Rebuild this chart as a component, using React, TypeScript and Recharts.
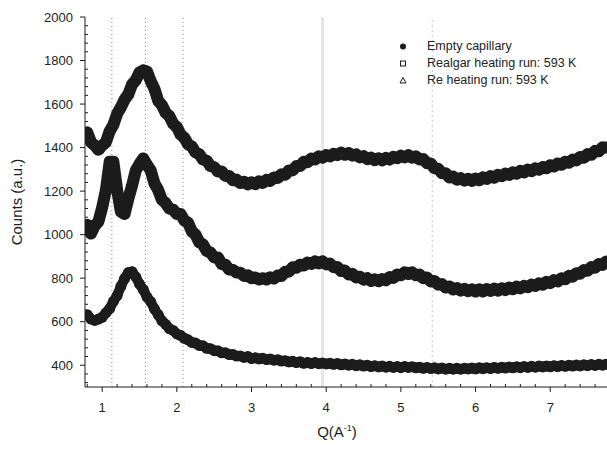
import React from "react";
import {
    ComposedChart,
    Line,
    Scatter,
    XAxis,
    YAxis,
    ReferenceLine,
} from "recharts";

// Q grid (1/A), 0.05 steps
const qValues = [
    0.8, 0.85, 0.9, 0.95, 1.0, 1.05, 1.1, 1.15, 1.2, 1.25,
    1.3, 1.35, 1.4, 1.45, 1.5, 1.55, 1.6, 1.65, 1.7, 1.75,
    1.8, 1.85, 1.9, 1.95, 2.0, 2.05, 2.1, 2.15, 2.2, 2.25,
    2.3, 2.35, 2.4, 2.45, 2.5, 2.55, 2.6, 2.65, 2.7, 2.75,
    2.8, 2.85, 2.9, 2.95, 3.0, 3.05, 3.1, 3.15, 3.2, 3.25,
    3.3, 3.35, 3.4, 3.45, 3.5, 3.55, 3.6, 3.65, 3.7, 3.75,
    3.8, 3.85, 3.9, 3.95, 4.0, 4.05, 4.1, 4.15, 4.2, 4.25,
    4.3, 4.35, 4.4, 4.45, 4.5, 4.55, 4.6, 4.65, 4.7, 4.75,
    4.8, 4.85, 4.9, 4.95, 5.0, 5.05, 5.1, 5.15, 5.2, 5.25,
    5.3, 5.35, 5.4, 5.45, 5.5, 5.55, 5.6, 5.65, 5.7, 5.75,
    5.8, 5.85, 5.9, 5.95, 6.0, 6.05, 6.1, 6.15, 6.2, 6.25,
    6.3, 6.35, 6.4, 6.45, 6.5, 6.55, 6.6, 6.65, 6.7, 6.75,
    6.8, 6.85, 6.9, 6.95, 7.0, 7.05, 7.1, 7.15, 7.2, 7.25,
    7.3, 7.35, 7.4, 7.45, 7.5, 7.55, 7.6, 7.65, 7.7, 7.75,
];

const emptyCapillary = [
    632, 612, 606, 612, 620, 641, 660, 693, 720, 762,
    798, 826, 830, 806, 773, 748, 713, 692, 658, 632,
    604, 588, 568, 560, 544, 537, 524, 517, 505, 502,
    491, 489, 478, 476, 467, 466, 457, 457, 449, 449,
    442, 443, 436, 440, 431, 434, 429, 432, 426, 429,
    423, 425, 419, 421, 415, 418, 412, 416, 409, 413,
    408, 412, 407, 410, 406, 409, 404, 408, 402, 406,
    400, 404, 398, 402, 396, 400, 394, 398, 392, 396,
    391, 395, 390, 394, 389, 394, 390, 393, 388, 391,
    386, 390, 385, 388, 383, 387, 382, 386, 382, 386,
    382, 386, 383, 387, 383, 388, 384, 389, 385, 390,
    386, 391, 387, 392, 388, 393, 389, 394, 390, 395,
    391, 396, 392, 397, 393, 398, 394, 399, 395, 400,
    396, 401, 397, 402, 398, 403, 399, 404, 400, 405,
];

const realgarRun = [
    1045, 1005, 1040, 1060, 1125, 1205, 1335, 1335, 1205, 1105,
    1095, 1165, 1225, 1295, 1325, 1350, 1320, 1295, 1235, 1205,
    1160, 1145, 1120, 1115, 1095, 1095, 1065, 1055, 1015, 1000,
    965, 955, 925, 918, 895, 895, 865, 862, 840, 838,
    826, 825, 810, 813, 800, 803, 794, 800, 794, 804,
    798, 812, 810, 830, 830, 850, 848, 862, 858, 872,
    865, 877, 868, 877, 863, 867, 850, 851, 833, 835,
    817, 820, 803, 807, 793, 800, 787, 795, 786, 796,
    790, 805, 801, 817, 813, 827, 819, 827, 813, 817,
    800, 803, 785, 787, 770, 773, 757, 762, 748, 755,
    743, 751, 740, 749, 739, 749, 739, 750, 741, 752,
    743, 754, 745, 757, 749, 761, 753, 765, 758, 771,
    764, 777, 770, 783, 777, 791, 785, 800, 795, 811,
    807, 823, 820, 837, 834, 851, 848, 865, 861, 877,
];

const reRun = [
    1470, 1425, 1410, 1390, 1410, 1425, 1475, 1505, 1555, 1585,
    1620, 1645, 1690, 1710, 1745, 1755, 1750, 1705, 1670, 1615,
    1595, 1560, 1545, 1510, 1495, 1460, 1445, 1415, 1405, 1378,
    1370, 1345, 1340, 1315, 1310, 1290, 1290, 1270, 1270, 1250,
    1253, 1237, 1243, 1231, 1241, 1232, 1245, 1238, 1252, 1247,
    1263, 1260, 1277, 1275, 1295, 1295, 1315, 1315, 1335, 1333,
    1350, 1345, 1360, 1353, 1366, 1359, 1372, 1365, 1377, 1367,
    1375, 1363, 1369, 1355, 1361, 1347, 1354, 1342, 1351, 1341,
    1353, 1345, 1358, 1351, 1363, 1355, 1365, 1353, 1360, 1345,
    1347, 1328, 1327, 1305, 1303, 1282, 1282, 1263, 1267, 1253,
    1260, 1248, 1257, 1247, 1258, 1250, 1263, 1256, 1269, 1262,
    1275, 1268, 1281, 1274, 1287, 1280, 1293, 1286, 1299, 1292,
    1305, 1298, 1311, 1305, 1319, 1313, 1327, 1321, 1335, 1330,
    1345, 1341, 1357, 1353, 1370, 1367, 1385, 1383, 1401, 1400,
];

const seriesNames = [
    "Empty capillary",
    "Realgar heating run: 593 K",
    "Re heating run: 593 K",
];

const xTicks = [
    0.8, 1, 1.2, 1.4, 1.6, 1.8, 2, 2.2, 2.4, 2.6, 2.8, 3, 3.2, 3.4, 3.6,
    3.8, 4, 4.2, 4.4, 4.6, 4.8, 5, 5.2, 5.4, 5.6, 5.8, 6, 6.2, 6.4, 6.6,
    6.8, 7, 7.2, 7.4, 7.6,
];
const yMajorTicks = [400, 600, 800, 1000, 1200, 1400, 1600, 1800, 2000];
// minor ticks every 40 counts
const yTicks: number[] = [];
for (let v = 320; v <= 2000; v += 40) yTicks.push(v);

const peakLines = [1.13, 1.58, 2.08];

const data = qValues.map((q, i) => ({
    q,
    empty: emptyCapillary[i],
    realgar: realgarRun[i],
    re: reRun[i],
}));

const INK = "#1c1c1c";
const FONT = "'Liberation Sans', Arial, sans-serif";

const isMajor = (v: number) => Math.abs(v - Math.round(v)) < 1e-6;

const BottomTick = ({ x, y, payload }: any) => {
    const v = payload.value as number;
    if (!isMajor(v)) {
        return <line x1={x} x2={x} y1={y} y2={y - 3} stroke={INK} />;
    }
    return (
        <g>
            <line x1={x} x2={x} y1={y} y2={y + 5} stroke={INK} />
            <text x={x} y={y + 25} textAnchor="middle" fontSize={13} fill="#222" fontFamily={FONT}>
                {Math.round(v)}
            </text>
        </g>
    );
};

const TopTick = ({ x, y, payload }: any) => {
    const v = payload.value as number;
    return <line x1={x} x2={x} y1={y} y2={y + (isMajor(v) ? 5 : 3)} stroke={INK} />;
};

const LeftTick = ({ x, y, payload }: any) => {
    const v = payload.value as number;
    if (!yMajorTicks.includes(v)) {
        return <line x1={x} x2={x + 3} y1={y} y2={y} stroke={INK} />;
    }
    return (
        <g>
            <line x1={x - 5} x2={x} y1={y} y2={y} stroke={INK} />
            <text x={x - 12} y={y + 4.5} textAnchor="end" fontSize={13} fill="#222" fontFamily={FONT}>
                {v}
            </text>
        </g>
    );
};

const CircleDot = ({ cx, cy }: any) => <circle cx={cx} cy={cy} r={5.5} fill={INK} />;
const SquareDot = ({ cx, cy }: any) => (
    <rect x={cx - 3.5} y={cy - 3.5} width={7} height={7} fill="none" stroke={INK} strokeWidth={1.2} />
);
const TriangleDot = ({ cx, cy }: any) => (
    <path d={`M${cx},${cy - 4.5}L${cx + 4.2},${cy + 3}L${cx - 4.2},${cy + 3}Z`} fill="none" stroke={INK} strokeWidth={1.2} />
);

const LegendBox = () => (
    <div
        style={{
            position: "absolute",
            left: 396,
            top: 38,
            fontFamily: FONT,
            fontSize: 12.5,
            color: "#222",
            lineHeight: "17px",
        }}
    >
        {seriesNames.map((name, i) => (
            <div key={name} style={{ display: "flex", alignItems: "center" }}>
                <svg width={14} height={17} style={{ marginRight: 17 }}>
                    {i === 0 && <circle cx={7} cy={8.5} r={3} fill={INK} />}
                    {i === 1 && <rect x={4.5} y={6} width={5} height={5} fill="none" stroke={INK} />}
                    {i === 2 && <path d="M7,5.5L10,11L4,11Z" fill="none" stroke={INK} />}
                </svg>
                <span>{name}</span>
            </div>
        ))}
    </div>
);

export default function App() {
    return (
        <div style={{ position: "absolute", left: 0, top: 0, width: 607, height: 452, background: "#fff" }}>
            <ComposedChart
                width={607}
                height={452}
                data={data}
                margin={{ top: 17, right: 0, bottom: 0, left: 0 }}
            >
                <XAxis
                    dataKey="q"
                    type="number"
                    domain={[0.77, 7.76]}
                    allowDataOverflow
                    ticks={xTicks}
                    interval={0}
                    tick={<BottomTick />}
                    tickLine={false}
                    tickSize={0}
                    tickMargin={0}
                    height={65}
                    stroke={INK}
                    label={{
                        content: () => (
                            <text x={337} y={437} textAnchor="middle" fontSize={15} fill="#222" fontFamily={FONT}>
                                Q(A
                                <tspan dy={-6} fontSize={9}>-1</tspan>
                                <tspan dy={6}>)</tspan>
                            </text>
                        ),
                    }}
                />
                <XAxis
                    xAxisId="top"
                    orientation="top"
                    dataKey="q"
                    type="number"
                    domain={[0.77, 7.76]}
                    allowDataOverflow
                    ticks={xTicks}
                    interval={0}
                    tick={<TopTick />}
                    tickLine={false}
                    tickSize={0}
                    tickMargin={0}
                    height={0}
                    stroke={INK}
                />
                <YAxis
                    type="number"
                    domain={[300, 2000]}
                    allowDataOverflow
                    ticks={yTicks}
                    interval={0}
                    tick={<LeftTick />}
                    tickLine={false}
                    tickSize={0}
                    tickMargin={0}
                    width={85}
                    stroke={INK}
                    label={{
                        content: () => (
                            <text
                                x={22}
                                y={202}
                                transform="rotate(-90 22 202)"
                                textAnchor="middle"
                                fontSize={15}
                                fill="#222"
                                fontFamily={FONT}
                            >
                                Counts (a.u.)
                            </text>
                        ),
                    }}
                />

                {peakLines.map((q) => (
                    <ReferenceLine key={q} x={q} stroke="#888" strokeDasharray="1 3" />
                ))}
                <ReferenceLine x={3.95} stroke="#e6e6e6" strokeWidth={3} />
                <ReferenceLine x={5.42} stroke="#c4c4c4" strokeDasharray="2 3" />

                <Line dataKey="empty" stroke={INK} strokeWidth={10} strokeLinejoin="round" strokeLinecap="round" dot={false} isAnimationActive={false} />
                <Line dataKey="realgar" stroke={INK} strokeWidth={12} strokeLinejoin="round" strokeLinecap="round" dot={false} isAnimationActive={false} />
                <Line dataKey="re" stroke={INK} strokeWidth={12} strokeLinejoin="round" strokeLinecap="round" dot={false} isAnimationActive={false} />

                <Scatter dataKey="empty" shape={<CircleDot />} isAnimationActive={false} />
                <Scatter dataKey="realgar" shape={<SquareDot />} isAnimationActive={false} />
                <Scatter dataKey="re" shape={<TriangleDot />} isAnimationActive={false} />
            </ComposedChart>
            <LegendBox />
        </div>
    );
}
